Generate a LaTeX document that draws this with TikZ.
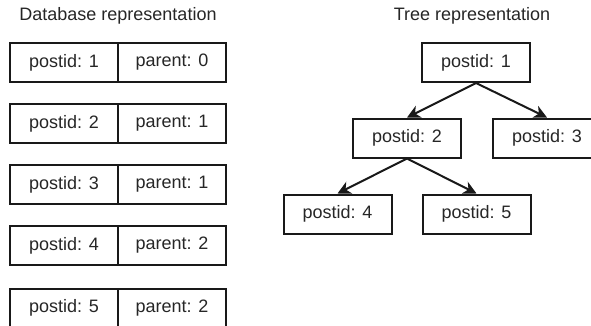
\documentclass[tikz,border=0pt]{standalone}
\usepackage{fontspec}
\setmainfont{Liberation Sans}
\usetikzlibrary{arrows.meta}
\begin{document}
\begin{tikzpicture}[x=1pt,y=-1pt,
  cell/.style={draw=black!90, line width=2pt, minimum width=108pt, minimum height=39pt, inner sep=0pt, font=\fontsize{18}{20}\selectfont, text=black!85},
  tnode/.style={cell},
  ttl/.style={font=\fontsize{18}{20}\selectfont, inner sep=0pt, anchor=base, text=black!85},
  edgearrow/.style={line width=2pt, draw=black!90, -{Stealth[length=13pt,width=13pt,inset=4pt]}}]
\useasboundingbox (0,0) rectangle (591,325);
\node[ttl] (dbt) at (118,20) {Database representation};
\node[ttl] (trt) at (472,20) {Tree representation};
% database rows
\node[cell] (p1) at (64,62.5) {postid: 1};
\node[cell] (q1) at (172,62.5) {parent: 0};
\node[cell] (p2) at (64,123.5) {postid: 2};
\node[cell] (q2) at (172,123.5) {parent: 1};
\node[cell] (p3) at (64,184.5) {postid: 3};
\node[cell] (q3) at (172,184.5) {parent: 1};
\node[cell] (p4) at (64,245.5) {postid: 4};
\node[cell] (q4) at (172,245.5) {parent: 2};
\node[cell] (p5) at (64,308) {postid: 5};
\node[cell] (q5) at (172,308) {parent: 2};
% tree
\node[tnode] (t1) at (476,62.5) {postid: 1};
\node[tnode] (t2) at (407,138) {postid: 2};
\node[tnode] (t3) at (547,138) {postid: 3};
\node[tnode] (t4) at (337.5,214) {postid: 4};
\node[tnode] (t5) at (476.5,214) {postid: 5};
\draw[edgearrow] (t1.south) -- (t2.north);
\draw[edgearrow] (t1.south) -- (t3.north);
\draw[edgearrow] (t2.south) -- (t4.north);
\draw[edgearrow] (t2.south) -- (t5.north);
\end{tikzpicture}
\end{document}
